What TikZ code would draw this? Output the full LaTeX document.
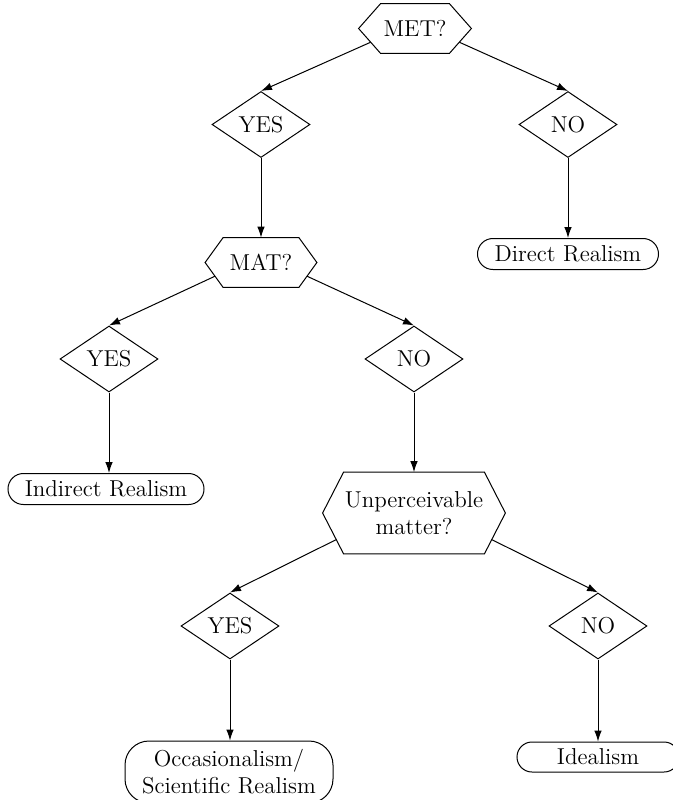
\documentclass[tikz,border=0pt]{standalone}
\usetikzlibrary{shapes.geometric,arrows.meta,calc}
\begin{document}
\begin{tikzpicture}[x=0.5pt,y=-0.5pt,
  every node/.style={font=\fontsize{11.5}{13.5}\selectfont, inner sep=0pt},
  dia/.style={diamond, draw, line width=0.5pt, minimum width=49pt, minimum height=33pt},
  hex/.style={draw=none, align=center},
  hexline/.style={draw, line width=0.5pt, line join=miter},
  term/.style={draw, line width=0.5pt, rectangle, rounded corners=7.7pt, minimum height=15.5pt, align=center},
  link/.style={-{Latex[length=5.5pt,width=3.8pt]}, line width=0.5pt}]
\useasboundingbox (0,0) rectangle (673,800);

% nodes
\node[hex, minimum width=34pt, minimum height=24.5pt] (met) at (415,28.5) {MET?};
\node[dia] (yes1) at (261,124.5) {YES};
\node[dia] (no1) at (568,124.5) {NO};
\node[term, minimum width=90.5pt] (direct) at (568,254) {Direct Realism};
\node[hex, minimum width=37.5pt, minimum height=24.5pt] (mat) at (261,262.5) {MAT?};
\node[dia] (yes2) at (109,359) {YES};
\node[dia] (no2) at (414,359) {NO};
\node[term, minimum width=98pt] (indirect) at (106,489) {Indirect Realism};
\node[hex, minimum width=70pt, minimum height=40.5pt] (unp) at (414,513) {Unperceivable\\matter?};
\node[dia] (yes3) at (230,626) {YES};
\node[dia] (no3) at (598,626) {NO};
\node[term, minimum width=104pt, minimum height=31pt, rounded corners=12pt] (occ) at (229,772) {Occasionalism/\\Scientific Realism};
\node[term, minimum width=81pt, minimum height=15pt, rounded corners=7.5pt] (ideal) at (598,757) {Idealism};

% hexagon outlines
\draw[hexline] ([xshift=-11pt]met.west) -- (met.north west) -- (met.north east) -- ([xshift=11pt]met.east) -- (met.south east) -- (met.south west) -- cycle;
\draw[hexline] ([xshift=-9pt]mat.west) -- (mat.north west) -- (mat.north east) -- ([xshift=9pt]mat.east) -- (mat.south east) -- (mat.south west) -- cycle;
\draw[hexline] ([xshift=-10.5pt]unp.west) -- (unp.north west) -- (unp.north east) -- ([xshift=10.5pt]unp.east) -- (unp.south east) -- (unp.south west) -- cycle;

% connector start points on the hexagon edges
\coordinate (metL) at ($([xshift=-11pt]met.west)!0.55!(met.south west)$);
\coordinate (metR) at ($([xshift=11pt]met.east)!0.55!(met.south east)$);
\coordinate (matL) at ($([xshift=-9pt]mat.west)!0.55!(mat.south west)$);
\coordinate (matR) at ($([xshift=9pt]mat.east)!0.55!(mat.south east)$);
\coordinate (unpL) at ($([xshift=-10.5pt]unp.west)!0.65!(unp.south west)$);
\coordinate (unpR) at ($([xshift=10.5pt]unp.east)!0.65!(unp.south east)$);

% connectors
\draw[link] (metL) -- (yes1.north);
\draw[link] (metR) -- (no1.north);
\draw[link] (yes1.south) -- (mat.north);
\draw[link] (no1.south) -- (direct.north);
\draw[link] (matL) -- (yes2.north);
\draw[link] (matR) -- (no2.north);
\draw[link] (yes2.south) -- (yes2.south |- indirect.north);
\draw[link] (no2.south) -- (unp.north);
\draw[link] (unpL) -- (yes3.north);
\draw[link] (unpR) -- (no3.north);
\draw[link] (yes3.south) -- (yes3.south |- occ.north);
\draw[link] (no3.south) -- (ideal.north);
\end{tikzpicture}
\end{document}
